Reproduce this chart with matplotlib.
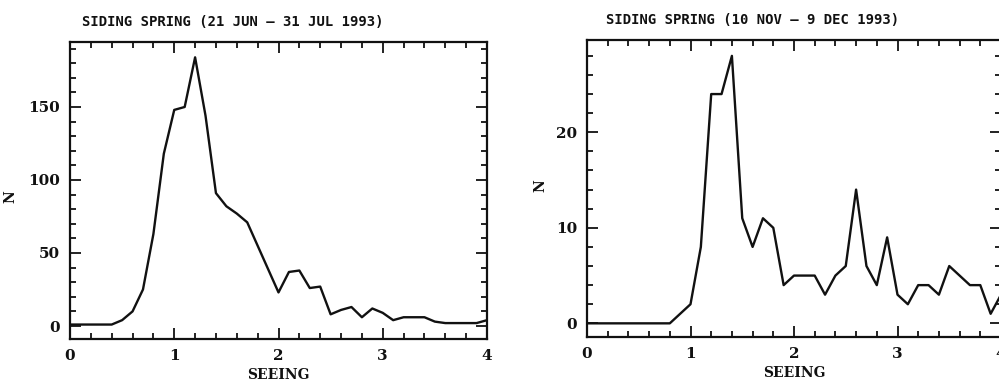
import numpy as np
import matplotlib
matplotlib.use('Agg')
import matplotlib.pyplot as plt
from matplotlib.ticker import MultipleLocator

# seeing bins (arcsec), 0.1 steps
seeing = np.round(np.arange(0, 4.01, 0.1), 1)

# 21 JUN - 31 JUL 1993
n_winter = [1, 1, 1, 1, 1, 4, 10, 25, 63, 118,
            148, 150, 184, 144, 91, 82, 77, 71, 55, 39,
            23, 37, 38, 26, 27, 8, 11, 13, 6, 12,
            9, 4, 6, 6, 6, 3, 2, 2, 2, 2, 4]

# 10 NOV - 9 DEC 1993
n_summer = [0, 0, 0, 0, 0, 0, 0, 0, 0, 1,
            2, 8, 24, 24, 28, 11, 8, 11, 10, 4,
            5, 5, 5, 3, 5, 6, 14, 6, 4, 9,
            3, 2, 4, 4, 3, 6, 5, 4, 4, 1, 3]

titles = ['SIDING SPRING (21 JUN \u2013 31 JUL 1993)',
          'SIDING SPRING (10 NOV \u2013 9 DEC 1993)']

fig = plt.figure(figsize=(9.99, 3.92), dpi=100)

W, H = 999.0, 392.0
ax1 = fig.add_axes([70 / W, (H - 339) / H, 417 / W, 297 / H])
ax2 = fig.add_axes([587 / W, (H - 337) / H, 414 / W, 297 / H])

lab_font = dict(family='DejaVu Serif', weight='bold', size=10)

def style(ax, ymaj, ymin):
    ax.set_xlim(0, 4)
    ax.xaxis.set_major_locator(MultipleLocator(1))
    ax.xaxis.set_minor_locator(MultipleLocator(0.2))
    ax.yaxis.set_major_locator(MultipleLocator(ymaj))
    ax.yaxis.set_minor_locator(MultipleLocator(ymin))
    ax.tick_params(which='both', direction='in', top=True, right=True,
                   width=1.3, color='#111111')
    ax.tick_params(which='major', length=8, pad=7)
    ax.tick_params(which='minor', length=4)
    for s in ax.spines.values():
        s.set_linewidth(1.6)
        s.set_color('#111111')
    for t in ax.get_xticklabels() + ax.get_yticklabels():
        t.set_fontfamily('DejaVu Serif')
        t.set_fontweight('bold')
        t.set_fontsize(11)
        t.set_color('#111111')
    ax.set_xlabel('SEEING', fontdict=lab_font, color='#111111', labelpad=4)
    ax.set_ylabel('N', fontdict=lab_font, color='#111111')

ax1.plot(seeing, n_winter, color='#111111', lw=1.7)
ax1.set_ylim(-8.9, 194.5)
style(ax1, 50, 10)
ax1.yaxis.set_label_coords(-0.125, 0.48)

ax2.plot(seeing, n_summer, color='#111111', lw=1.7)
ax2.set_ylim(-1.43, 29.66)
style(ax2, 10, 2)
ax2.yaxis.set_label_coords(-0.095, 0.51)

fig.text(233 / W, 1 - 22 / H, titles[0], ha='center', va='center',
         family='DejaVu Sans Mono', weight='bold', size=10, color='#111111')
fig.text(753 / W, 1 - 20 / H, titles[1], ha='center', va='center',
         family='DejaVu Sans Mono', weight='bold', size=10, color='#111111')

fig.savefig('out.png', dpi=100)
